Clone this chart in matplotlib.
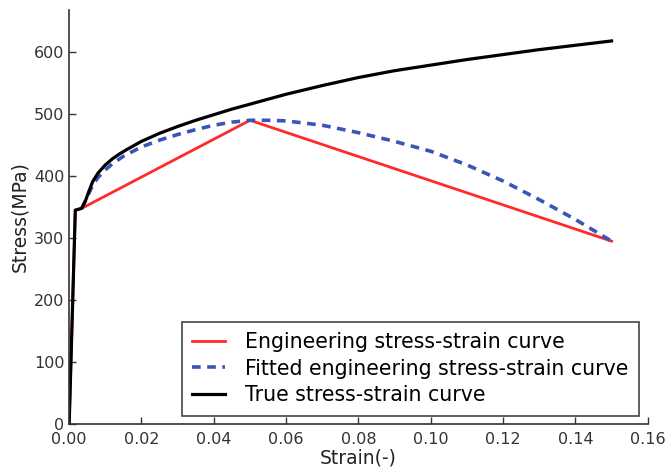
import numpy as np
import matplotlib
matplotlib.use('Agg')
import matplotlib.pyplot as plt

# engineering stress-strain (bilinear after yield)
eng_strain = [0.0, 0.0017, 0.0035, 0.050, 0.150]
eng_stress = [0, 345, 348, 490, 295]

# fitted engineering curve
fit_strain = [0.0035, 0.0045, 0.0055, 0.0065, 0.008, 0.010, 0.012, 0.015, 0.020, 0.025,
              0.030, 0.035, 0.040, 0.045, 0.050, 0.055, 0.060, 0.070, 0.080, 0.090,
              0.100, 0.110, 0.120, 0.130, 0.140, 0.150]
fit_stress = [348, 360, 373, 385, 398, 410, 420, 432, 447, 458,
              467, 475, 482, 487, 490, 490, 489, 482, 470, 456,
              440, 418, 392, 362, 330, 295]

# true stress-strain
true_strain = [0.0, 0.0017, 0.0035, 0.0045, 0.0055, 0.0065, 0.008, 0.010, 0.012, 0.014,
               0.016, 0.020, 0.025, 0.030, 0.035, 0.040, 0.045, 0.050, 0.060, 0.070,
               0.080, 0.090, 0.100, 0.110, 0.120, 0.130, 0.140, 0.150]
true_stress = [0, 345, 348, 360, 376, 391, 405, 418, 428, 436,
               443, 456, 469, 480, 490, 499, 508, 516, 532, 546,
               559, 570, 579, 588, 596, 604, 611, 618]

fig = plt.figure(figsize=(6.65, 4.74), dpi=100)
ax = fig.add_axes([0.104, 0.1055, 0.870, 0.8735])

ax.plot(eng_strain, eng_stress, color='#ff2a2a', lw=2.0, label='Engineering stress-strain curve')
ax.plot(fit_strain, fit_stress, '--', color='#3a55b5', lw=2.6, dashes=(2.4, 1.8),
        label='Fitted engineering stress-strain curve')
ax.plot(true_strain, true_stress, color='black', lw=2.3, label='True stress-strain curve')

ax.set_xlim(0, 0.16)
ax.set_ylim(0, 668)
ax.set_xticks(np.arange(0, 0.161, 0.02))
ax.set_xticklabels(['%.2f' % t for t in np.arange(0, 0.161, 0.02)])
ax.set_yticks(range(0, 601, 100))

for s in ['top', 'right']:
    ax.spines[s].set_visible(False)
for s in ['left', 'bottom']:
    ax.spines[s].set_color('#333333')
    ax.spines[s].set_linewidth(1.2)
ax.tick_params(direction='in', length=5, width=1, colors='#333333', labelsize=11.5,
               top=False, right=False)
ax.tick_params(axis='x', pad=6)

ax.set_xlabel('Strain(-)', fontsize=13.5, color='#222222', labelpad=1)
ax.set_ylabel('Stress(MPa)', fontsize=13.5, color='#222222', labelpad=3)

leg = ax.legend(loc='lower right', bbox_to_anchor=(0.985, 0.02), fontsize=14.8,
                fancybox=False, framealpha=1, edgecolor='#444444',
                handlelength=1.6, handletextpad=1.0, borderpad=0.5, labelspacing=0.33,
                borderaxespad=0)
leg.get_frame().set_linewidth(1.2)

plt.savefig('out.png', dpi=100)
